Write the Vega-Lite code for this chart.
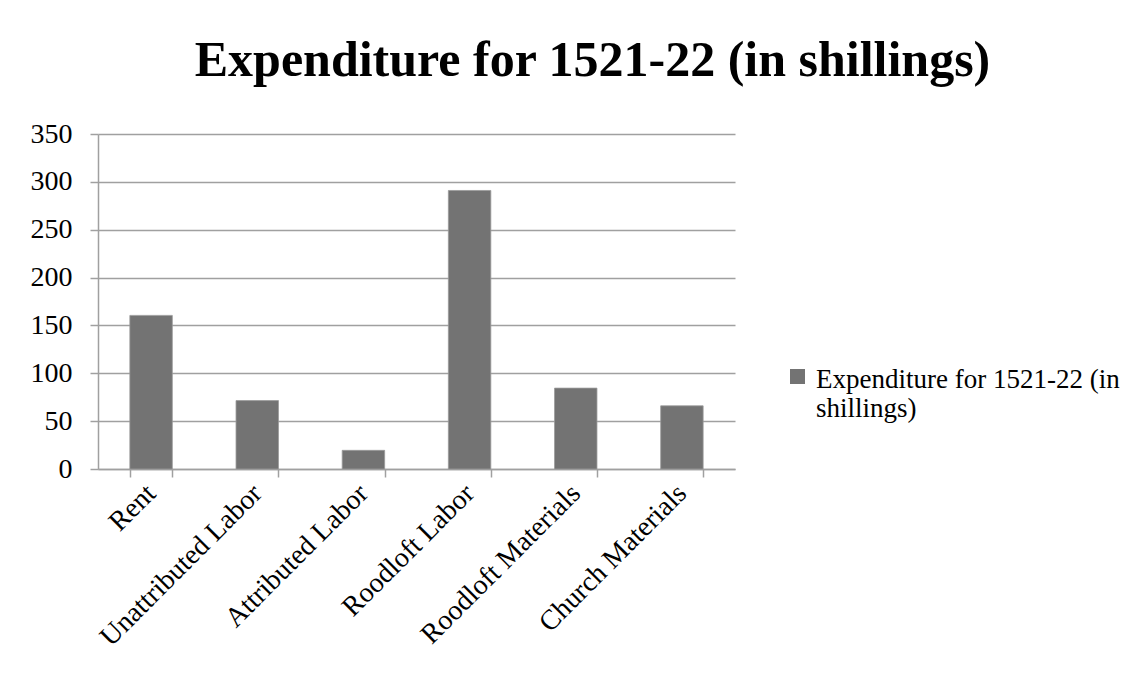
{
  "$schema": "https://vega.github.io/schema/vega-lite/v6.json",
  "width": 637,
  "height": 335,
  "autosize": {"type": "none"},
  "padding": {"left": 98, "top": 134, "right": 412, "bottom": 210},
  "background": "white",
  "title": {
    "text": "Expenditure for 1521-22 (in shillings)",
    "font": "Liberation Serif",
    "fontSize": 50,
    "fontWeight": "bold",
    "color": "#000000",
    "anchor": "middle",
    "dx": 176,
    "offset": 34,
    "limit": 2000
  },
  "data": {
    "values": [
      {"category": "Rent", "value": 160.5, "series": "Expenditure for 1521-22 (in shillings)"},
      {"category": "Unattributed Labor", "value": 71.5, "series": "Expenditure for 1521-22 (in shillings)"},
      {"category": "Attributed Labor", "value": 19.5, "series": "Expenditure for 1521-22 (in shillings)"},
      {"category": "Roodloft Labor", "value": 291, "series": "Expenditure for 1521-22 (in shillings)"},
      {"category": "Roodloft Materials", "value": 84.5, "series": "Expenditure for 1521-22 (in shillings)"},
      {"category": "Church Materials", "value": 66, "series": "Expenditure for 1521-22 (in shillings)"}
    ]
  },
  "mark": {"type": "bar", "stroke": "#9a9a9a", "strokeWidth": 0.8},
  "encoding": {
    "x": {
      "field": "category",
      "type": "nominal",
      "sort": null,
      "scale": {"paddingInner": 0.6, "paddingOuter": 0.3},
      "axis": {
        "title": null,
        "labelAngle": -45,
        "labelAlign": "right",
        "labelBaseline": "middle",
        "labelFont": "Liberation Serif",
        "labelFontSize": 28,
        "labelColor": "#000000",
        "labelPadding": 12,
        "labelLimit": 600,
        "labelOverlap": false,
        "tickBand": "extent",
        "tickSize": 8,
        "tickColor": "#a0a0a0",
        "tickWidth": 1.5,
        "domainColor": "#a0a0a0",
        "domainWidth": 1.5,
        "grid": false
      }
    },
    "y": {
      "field": "value",
      "type": "quantitative",
      "scale": {"domain": [0, 350]},
      "axis": {
        "title": null,
        "values": [0, 50, 100, 150, 200, 250, 300, 350],
        "labelFont": "Liberation Serif",
        "labelFontSize": 28,
        "labelColor": "#000000",
        "labelPadding": 18,
        "tickSize": 8,
        "tickColor": "#a0a0a0",
        "tickWidth": 1.5,
        "domainColor": "#a0a0a0",
        "domainWidth": 1.5,
        "grid": true,
        "gridColor": "#a0a0a0",
        "gridWidth": 1.5
      }
    },
    "color": {
      "field": "series",
      "type": "nominal",
      "scale": {"range": ["#737373"]},
      "legend": {
        "title": null,
        "orient": "none",
        "legendX": 686,
        "legendY": 240,
        "padding": 0,
        "symbolType": "M-1,-2.467L1,-2.467L1,-0.467L-1,-0.467Z",
        "symbolSize": 225,
        "symbolStrokeWidth": 0,
        "labelFont": "Liberation Serif",
        "labelFontSize": 27,
        "labelColor": "#000000",
        "labelOffset": 5,
        "labelLimit": 400,
        "labelBaseline": "alphabetic",
        "labelExpr": "['Expenditure for 1521-22 (in', 'shillings)']"
      }
    }
  },
  "config": {
    "view": {"stroke": null},
    "legend": {"labelLineHeight": 31}
  }
}
